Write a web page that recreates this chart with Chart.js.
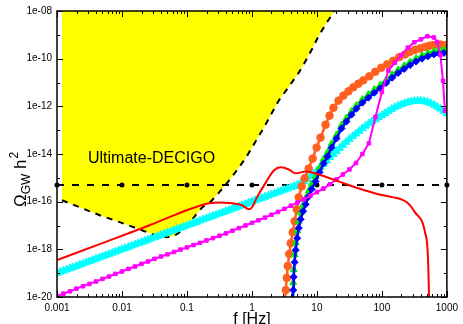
<!DOCTYPE html>
<html>
<head>
<meta charset="utf-8">
<script src="https://cdn.jsdelivr.net/npm/chart.js@4.4.1/dist/chart.umd.min.js"></script>
<style>
html,body{margin:0;padding:0;background:#fff;}
canvas{display:block;}
</style>
</head>
<body>
<canvas id="c" width="463" height="324"></canvas>
<script>
// ---------- tick values / labels ----------
const xTickValues = [0.001, 0.01, 0.1, 1, 10, 100, 1000];
const xTickLabels = ['0.001', '0.01', '0.1', '1', '10', '100', '1000'];
const yTickValues = [1e-20, 1e-18, 1e-16, 1e-14, 1e-12, 1e-10, 1e-8];
const yTickLabels = ['1e-20', '1e-18', '1e-16', '1e-14', '1e-12', '1e-10', '1e-08'];

// ---------- series (log10 f, log10 Omega h^2) ----------
const decigoLogF = [-2.923,-2.648,-2.342,-2.036,-1.730,-1.531,-1.423,-1.301,-1.194,-1.071,-0.964,-0.857,-0.765,-0.627,-0.505,-0.398,-0.291,-0.199,-0.092,0.000,0.092,0.184,0.291,0.413,0.567,0.720,0.827,0.919,1.026,1.148,1.271,1.301];
const decigoLogOmega = [-15.94,-16.24,-16.57,-16.86,-17.16,-17.37,-17.45,-17.49,-17.43,-17.20,-16.91,-16.53,-16.24,-15.98,-15.61,-15.27,-14.90,-14.56,-14.15,-13.73,-13.31,-12.89,-12.35,-11.76,-11.18,-10.59,-10.09,-9.63,-9.05,-8.50,-8.00,-7.83];

const refLineF = [0.001, 0.01, 0.1, 1, 10, 100, 1000];
const refLineOmega = [5e-16, 5e-16, 5e-16, 5e-16, 5e-16, 5e-16, 5e-16];

const redLogF = [-3.000,-2.342,-1.576,-1.270,-0.964,-0.658,-0.505,-0.306,-0.153,-0.046,0.000,0.077,0.214,0.337,0.444,0.567,0.674,0.827,1.026,1.332,1.638,1.944,2.174,2.296,2.403,2.510,2.663,2.709,2.725,2.732];
const redLogOmega = [-18.45,-17.78,-16.99,-16.65,-16.32,-16.07,-16.03,-16.07,-16.15,-16.32,-16.24,-15.82,-15.19,-14.69,-14.56,-14.65,-14.81,-14.73,-14.86,-15.15,-15.44,-15.69,-15.82,-15.90,-16.07,-16.45,-17.28,-18.33,-20.00,-20.96];

const cyanLogF = [-3.00,-2.95,-2.90,-2.85,-2.80,-2.75,-2.70,-2.65,-2.60,-2.55,-2.50,-2.45,-2.40,-2.35,-2.30,-2.25,-2.20,-2.15,-2.10,-2.05,
  -2.00,-1.95,-1.90,-1.85,-1.80,-1.75,-1.70,-1.65,-1.60,-1.55,-1.50,-1.45,-1.40,-1.35,-1.30,-1.25,-1.20,-1.15,-1.10,-1.05,
  -1.00,-0.95,-0.90,-0.85,-0.80,-0.75,-0.70,-0.65,-0.60,-0.55,-0.50,-0.45,-0.40,-0.35,-0.30,-0.25,-0.20,-0.15,-0.10,-0.05,
  0.00,0.05,0.10,0.15,0.20,0.25,0.30,0.35,0.40,0.45,0.50,0.55,0.60,0.65,0.70,0.75,0.80,0.85,0.90,0.95,
  1.00,1.05,1.10,1.15,1.20,1.25,1.30,1.35,1.40,1.45,1.50,1.55,1.60,1.65,1.70,1.75,1.80,1.85,1.90,1.95,
  2.00,2.05,2.10,2.15,2.20,2.25,2.30,2.35,2.40,2.45,2.50,2.55,2.60,2.65,2.70,2.75,2.80,2.85,2.90,2.95,3.00];
const cyanLogOmega = [-19.00,-18.95,-18.90,-18.85,-18.80,-18.75,-18.70,-18.65,-18.60,-18.55,-18.50,-18.45,-18.40,-18.35,-18.30,-18.25,-18.20,-18.15,-18.10,-18.05,
  -18.00,-17.95,-17.90,-17.85,-17.80,-17.75,-17.70,-17.65,-17.60,-17.55,-17.50,-17.45,-17.40,-17.35,-17.30,-17.25,-17.20,-17.15,-17.10,-17.05,
  -17.00,-16.95,-16.90,-16.85,-16.80,-16.75,-16.70,-16.65,-16.60,-16.55,-16.50,-16.45,-16.40,-16.35,-16.30,-16.25,-16.20,-16.15,-16.10,-16.05,
  -16.00,-15.95,-15.90,-15.85,-15.80,-15.75,-15.70,-15.65,-15.60,-15.55,-15.50,-15.45,-15.40,-15.35,-15.30,-15.23,-15.15,-15.05,-14.93,-14.82,
  -14.70,-14.56,-14.42,-14.28,-14.14,-14.01,-13.88,-13.75,-13.62,-13.50,-13.38,-13.26,-13.15,-13.04,-12.93,-12.82,-12.72,-12.63,-12.54,-12.46,
  -12.38,-12.29,-12.20,-12.12,-12.04,-11.98,-11.92,-11.87,-11.83,-11.80,-11.78,-11.77,-11.77,-11.79,-11.82,-11.87,-11.94,-12.02,-12.10,-12.20,-12.30];

const magentaLogF = [-3.0,-2.9,-2.8,-2.7,-2.6,-2.5,-2.4,-2.3,-2.2,-2.1,-2.0,-1.9,-1.8,-1.7,-1.6,-1.5,-1.4,-1.3,-1.2,-1.1,-1.0,-0.9,-0.8,-0.7,-0.6,-0.5,-0.4,-0.3,-0.2,-0.1,0.0,0.1,0.2,0.3,0.4,0.5,0.6,0.7,0.8,0.9,1.0,1.1,1.2,1.3,1.4,1.5,1.6,1.7,1.8,1.9,2.0,2.1,2.2,2.3,2.4,2.5,2.6,2.7,2.8,2.85,2.9,2.94,2.97];
const magentaLogOmega = [-19.96,-19.86,-19.76,-19.65,-19.55,-19.45,-19.35,-19.24,-19.14,-19.03,-18.93,-18.82,-18.72,-18.61,-18.51,-18.40,-18.30,-18.21,-18.11,-18.01,-17.92,-17.82,-17.73,-17.63,-17.53,-17.43,-17.33,-17.22,-17.11,-17.00,-16.89,-16.78,-16.67,-16.55,-16.43,-16.30,-16.17,-16.04,-15.90,-15.75,-15.60,-15.45,-15.27,-15.07,-14.86,-14.65,-14.38,-14.00,-13.55,-12.45,-11.40,-10.50,-10.17,-9.85,-9.54,-9.31,-9.19,-9.06,-9.11,-9.30,-9.85,-10.93,-12.18];

const orangeLogF = [0.505,0.521,0.536,0.551,0.574,0.597,0.628,0.658,0.689,0.720,0.766,0.812,0.873,0.934,0.995,1.056,1.133,1.194,1.255,1.332,1.408,1.485,1.561,1.638,1.714,1.806,1.898,1.990,2.082,2.174,2.265,2.357,2.434,2.510,2.587,2.663,2.725,2.786,2.847,2.908,2.970];
const orangeLogOmega = [-20.33,-19.71,-19.20,-18.70,-18.20,-17.74,-17.28,-16.82,-16.32,-15.82,-15.36,-15.02,-14.61,-14.19,-13.73,-13.31,-12.77,-12.39,-12.06,-11.76,-11.55,-11.37,-11.20,-11.05,-10.91,-10.74,-10.55,-10.38,-10.24,-10.09,-9.94,-9.82,-9.71,-9.63,-9.57,-9.51,-9.46,-9.43,-9.41,-9.41,-9.44];

const greenLogF = [0.628,0.635,0.643,0.658,0.674,0.697,0.720,0.750,0.788,0.827,0.873,0.919,0.980,1.041,1.102,1.164,1.225,1.301,1.378,1.454,1.531,1.607,1.699,1.791,1.883,1.975,2.066,2.158,2.250,2.342,2.434,2.526,2.617,2.709,2.801,2.878,2.954];
const greenLogOmega = [-20.2,-19.40,-18.85,-18.22,-17.72,-17.22,-16.82,-16.46,-16.14,-15.86,-15.54,-15.26,-14.94,-14.58,-14.22,-13.93,-13.57,-13.20,-12.79,-12.50,-12.21,-11.96,-11.71,-11.50,-11.29,-11.10,-10.89,-10.67,-10.47,-10.30,-10.14,-9.99,-9.87,-9.77,-9.69,-9.65,-9.63];

const blueLogF = [0.628,0.635,0.643,0.658,0.674,0.697,0.720,0.750,0.788,0.827,0.873,0.919,0.980,1.041,1.102,1.164,1.225,1.301,1.378,1.454,1.531,1.607,1.699,1.791,1.883,1.975,2.066,2.158,2.250,2.342,2.434,2.526,2.617,2.709,2.801,2.878,2.954];
const blueLogOmega = [-20.33,-19.71,-19.16,-18.54,-18.03,-17.53,-17.11,-16.74,-16.40,-16.11,-15.78,-15.48,-15.15,-14.77,-14.40,-14.10,-13.73,-13.35,-12.93,-12.64,-12.35,-12.10,-11.85,-11.64,-11.43,-11.24,-11.02,-10.80,-10.60,-10.43,-10.27,-10.12,-10.00,-9.90,-9.82,-9.78,-9.76];

// ---------- build point tables ----------
function pts(lf, lo) { return lf.map((v, i) => ({ x: Math.pow(10, v), y: Math.pow(10, lo[i]) })); }
function linPts(f, o) { return f.map((v, i) => ({ x: v, y: o[i] })); }

const FONT = "'Liberation Sans', Arial, Helvetica, sans-serif";

const decor = {
  id: 'decor',
  afterDatasetsDraw(chart) {
    const ctx = chart.ctx, a = chart.chartArea;
    ctx.save();
    ctx.fillStyle = '#000';
    ctx.font = '16px ' + FONT;
    ctx.textBaseline = 'alphabetic';
    ctx.textAlign = 'left';
    ctx.fillText('Ultimate-DECIGO', a.left + 31, a.top + 152);
    ctx.restore();
  },
  afterDraw(chart) {
    const ctx = chart.ctx, a = chart.chartArea;
    const xs = chart.scales.x, ys = chart.scales.y;
    ctx.save();
    ctx.strokeStyle = '#000';
    ctx.lineWidth = 1.5;
    ctx.strokeRect(a.left, a.top, a.right - a.left, a.bottom - a.top);
    ctx.lineWidth = 1;
    ctx.beginPath();
    for (let d = -3; d <= 3; d++) {
      const base = Math.pow(10, d);
      const px = Math.round(xs.getPixelForValue(base)) + 0.5;
      ctx.moveTo(px, a.bottom); ctx.lineTo(px, a.bottom - 6);
      ctx.moveTo(px, a.top); ctx.lineTo(px, a.top + 6);
      if (d < 3) {
        for (let m = 2; m <= 9; m++) {
          const p = Math.round(xs.getPixelForValue(m * base)) + 0.5;
          ctx.moveTo(p, a.bottom); ctx.lineTo(p, a.bottom - 3);
          ctx.moveTo(p, a.top); ctx.lineTo(p, a.top + 3);
        }
      }
    }
    for (let e = -20; e <= -8; e++) {
      const py = Math.round(ys.getPixelForValue(Math.pow(10, e))) + 0.5;
      const len = (e % 2 === 0) ? 6 : 3;
      ctx.moveTo(a.left, py); ctx.lineTo(a.left + len, py);
      ctx.moveTo(a.right, py); ctx.lineTo(a.right - len, py);
    }
    ctx.stroke();

    ctx.fillStyle = '#000';
    ctx.font = '16px ' + FONT;
    ctx.textAlign = 'center';
    ctx.textBaseline = 'alphabetic';
    ctx.fillText('f [Hz]', (a.left + a.right) / 2, 324);

    ctx.translate(26, 207);
    ctx.rotate(-Math.PI / 2);
    ctx.textAlign = 'left';
    let x = 0;
    ctx.font = '17px ' + FONT;
    ctx.fillText('\u03A9', x, 0); x += ctx.measureText('\u03A9').width;
    ctx.font = '12px ' + FONT;
    ctx.fillText('GW', x, 4); x += ctx.measureText('GW').width;
    ctx.font = '17px ' + FONT;
    ctx.fillText(' h', x, 0); x += ctx.measureText(' h').width;
    ctx.font = '12px ' + FONT;
    ctx.fillText('2', x + 1, -8);
    ctx.restore();
  }
};

const tickFont = { family: FONT, size: 10 };

new Chart(document.getElementById('c'), {
  type: 'scatter',
  data: {
    datasets: [
      { label: 'red', data: pts(redLogF, redLogOmega), showLine: true, borderColor: '#ff0000', borderWidth: 2, pointRadius: 0, cubicInterpolationMode: 'monotone', clip: 0 },
      { label: 'magenta', data: pts(magentaLogF, magentaLogOmega), showLine: true, borderColor: '#ff00ff', backgroundColor: '#ff00ff', borderWidth: 2, pointStyle: 'rect', pointRadius: 2.5, pointBorderWidth: 1, clip: 0 },
      { label: 'blue', data: pts(blueLogF, blueLogOmega), showLine: true, borderColor: '#0000ff', backgroundColor: '#0000ff', borderWidth: 2.5, pointStyle: 'rectRot', pointRadius: 3.5, pointBorderWidth: 1, clip: 0 },
      { label: 'green', data: pts(greenLogF, greenLogOmega), showLine: true, borderColor: '#00ee00', backgroundColor: '#00ee00', borderWidth: 2.5, pointStyle: 'triangle', pointRadius: 4, pointBorderWidth: 1, clip: 0 },
      { label: 'orange', data: pts(orangeLogF, orangeLogOmega), showLine: true, borderColor: '#ff5f1f', backgroundColor: '#ff5f1f', borderWidth: 2.5, pointStyle: 'circle', pointRadius: 3.8, pointBorderWidth: 1, clip: 0 },
      { label: 'cyan', data: pts(cyanLogF, cyanLogOmega), showLine: true, borderColor: '#00ffff', backgroundColor: '#00ffff', borderWidth: 2, pointStyle: 'triangle', pointRadius: 4.5, pointBorderWidth: 1, clip: 0 },
      { label: 'ref', data: linPts(refLineF, refLineOmega), showLine: true, borderColor: '#000', backgroundColor: '#000', borderWidth: 2, borderDash: [7, 8], pointStyle: 'circle', pointRadius: 2.5, pointBorderWidth: 0, clip: 3 },
      { label: 'Ultimate-DECIGO', data: pts(decigoLogF, decigoLogOmega), showLine: true, borderColor: '#000', borderWidth: 2, borderDash: [6, 6], pointRadius: 0, fill: 'end', backgroundColor: '#ffff00', clip: 0 }
    ]
  },
  options: {
    responsive: false,
    animation: false,
    devicePixelRatio: 1,
    events: [],
    layout: { padding: { left: 0, right: 15, top: 10, bottom: 0 } },
    plugins: { legend: { display: false }, tooltip: { enabled: false } },
    scales: {
      x: {
        type: 'logarithmic', min: 0.001, max: 1000, position: 'bottom',
        grid: { display: false, drawTicks: false }, border: { display: false },
        ticks: { autoSkip: false, maxRotation: 0, minRotation: 0, padding: 5, color: '#000', font: tickFont,
          callback: (v, i) => xTickLabels[i] },
        afterBuildTicks: (s) => { s.ticks = xTickValues.map(v => ({ value: v })); },
        afterFit: (s) => { s.height = 27; }
      },
      y: {
        type: 'logarithmic', min: 1e-20, max: 1e-8, position: 'left',
        grid: { display: false, drawTicks: false }, border: { display: false },
        ticks: { autoSkip: false, padding: 5, color: '#000', font: tickFont,
          callback: (v, i) => yTickLabels[i] },
        afterBuildTicks: (s) => { s.ticks = yTickValues.map(v => ({ value: v })); },
        afterFit: (s) => { s.width = 57; }
      }
    }
  },
  plugins: [decor]
});
</script>
</body>
</html>
